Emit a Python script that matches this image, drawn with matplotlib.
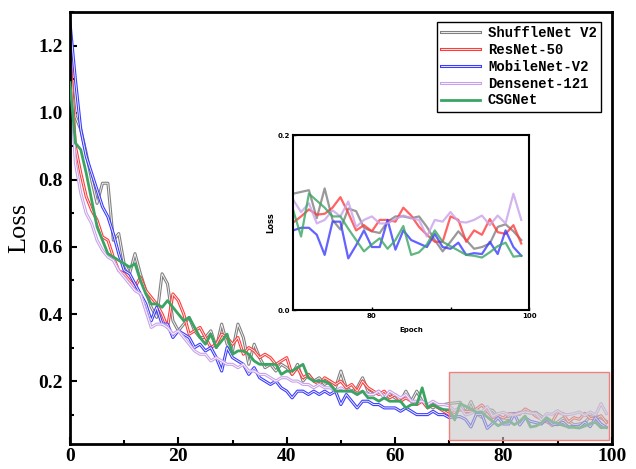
import numpy as np
import matplotlib.pyplot as plt
import matplotlib.patheffects as pe
from matplotlib.patches import Rectangle
from matplotlib.ticker import MultipleLocator

epochs = np.arange(100)

shufflenet = [1.15, 0.99, 0.95, 0.88, 0.80, 0.73, 0.79, 0.79, 0.62, 0.64,
              0.55, 0.52, 0.58, 0.52, 0.47, 0.42, 0.39, 0.52, 0.49, 0.38,
              0.35, 0.37, 0.39, 0.35, 0.33, 0.33, 0.35, 0.30, 0.37, 0.31,
              0.29, 0.37, 0.33, 0.25, 0.31, 0.27, 0.24, 0.25, 0.23, 0.25,
              0.24, 0.22, 0.25, 0.20, 0.22, 0.20, 0.21, 0.19, 0.20, 0.18,
              0.23, 0.18, 0.17, 0.18, 0.21, 0.17, 0.16, 0.17, 0.15, 0.16,
              0.15, 0.14, 0.17, 0.14, 0.17, 0.14, 0.13, 0.12, 0.13, 0.13,
              0.133, 0.135, 0.137, 0.105, 0.139, 0.103, 0.092, 0.116, 0.113, 0.094,
              0.090, 0.088, 0.101, 0.107, 0.107, 0.105, 0.107, 0.095, 0.080, 0.067,
              0.078, 0.090, 0.080, 0.070, 0.072, 0.076, 0.095, 0.098, 0.090, 0.080]

resnet = [1.19, 0.90, 0.82, 0.75, 0.71, 0.68, 0.63, 0.62, 0.57, 0.53,
          0.52, 0.50, 0.48, 0.51, 0.47, 0.45, 0.43, 0.40, 0.36, 0.46,
          0.44, 0.40, 0.34, 0.35, 0.36, 0.33, 0.30, 0.31, 0.34, 0.33,
          0.31, 0.33, 0.28, 0.30, 0.29, 0.27, 0.28, 0.27, 0.25, 0.26,
          0.27, 0.22, 0.24, 0.21, 0.22, 0.20, 0.19, 0.21, 0.20, 0.19,
          0.20, 0.18, 0.19, 0.17, 0.20, 0.18, 0.17, 0.16, 0.17, 0.15,
          0.16, 0.14, 0.15, 0.14, 0.13, 0.14, 0.12, 0.13, 0.12, 0.11,
          0.100, 0.107, 0.115, 0.109, 0.110, 0.117, 0.129, 0.111, 0.091, 0.097,
          0.090, 0.103, 0.103, 0.101, 0.117, 0.108, 0.095, 0.086, 0.078, 0.078,
          0.107, 0.103, 0.078, 0.091, 0.086, 0.104, 0.089, 0.087, 0.097, 0.076]

mobilenet = [1.27, 1.10, 0.95, 0.87, 0.82, 0.77, 0.72, 0.69, 0.64, 0.58,
             0.53, 0.52, 0.49, 0.46, 0.43, 0.38, 0.42, 0.37, 0.37, 0.33,
             0.35, 0.34, 0.33, 0.30, 0.31, 0.29, 0.30, 0.27, 0.23, 0.30,
             0.27, 0.26, 0.25, 0.22, 0.24, 0.21, 0.20, 0.19, 0.20, 0.18,
             0.17, 0.15, 0.17, 0.17, 0.16, 0.17, 0.16, 0.17, 0.16, 0.17,
             0.13, 0.16, 0.14, 0.12, 0.14, 0.14, 0.13, 0.13, 0.12, 0.12,
             0.12, 0.11, 0.12, 0.11, 0.10, 0.10, 0.10, 0.11, 0.10, 0.10,
             0.091, 0.094, 0.094, 0.086, 0.063, 0.101, 0.101, 0.059, 0.074, 0.091,
             0.072, 0.072, 0.103, 0.069, 0.091, 0.080, 0.076, 0.072, 0.087, 0.072,
             0.070, 0.077, 0.063, 0.065, 0.064, 0.078, 0.064, 0.091, 0.072, 0.062]

densenet = [1.12, 0.85, 0.76, 0.70, 0.67, 0.62, 0.59, 0.57, 0.56, 0.53,
            0.51, 0.49, 0.47, 0.46, 0.41, 0.36, 0.37, 0.37, 0.36, 0.34,
            0.35, 0.33, 0.31, 0.29, 0.28, 0.28, 0.26, 0.27, 0.26, 0.25,
            0.25, 0.24, 0.25, 0.23, 0.23, 0.22, 0.22, 0.21, 0.20, 0.21,
            0.21, 0.20, 0.20, 0.19, 0.19, 0.18, 0.19, 0.18, 0.18, 0.17,
            0.18, 0.17, 0.17, 0.16, 0.17, 0.16, 0.16, 0.17, 0.15, 0.17,
            0.16, 0.15, 0.16, 0.14, 0.14, 0.14, 0.13, 0.14, 0.13, 0.13,
            0.126, 0.112, 0.122, 0.099, 0.103, 0.114, 0.107, 0.124, 0.095, 0.103,
            0.107, 0.099, 0.099, 0.104, 0.108, 0.105, 0.103, 0.084, 0.103, 0.101,
            0.112, 0.101, 0.100, 0.103, 0.108, 0.097, 0.108, 0.099, 0.133, 0.103]

csgnet = [1.09, 0.91, 0.89, 0.82, 0.74, 0.66, 0.62, 0.58, 0.57, 0.56,
          0.55, 0.54, 0.55, 0.50, 0.46, 0.43, 0.43, 0.42, 0.44, 0.42,
          0.40, 0.38, 0.39, 0.36, 0.33, 0.31, 0.34, 0.30, 0.32, 0.34,
          0.28, 0.29, 0.29, 0.28, 0.26, 0.25, 0.25, 0.25, 0.25, 0.22,
          0.23, 0.23, 0.24, 0.25, 0.21, 0.20, 0.20, 0.20, 0.19, 0.17,
          0.17, 0.17, 0.17, 0.16, 0.17, 0.15, 0.15, 0.14, 0.15, 0.14,
          0.14, 0.14, 0.12, 0.13, 0.13, 0.18, 0.12, 0.13, 0.12, 0.115,
          0.114, 0.084, 0.133, 0.125, 0.117, 0.107, 0.107, 0.093, 0.080, 0.067,
          0.075, 0.082, 0.070, 0.080, 0.096, 0.063, 0.066, 0.075, 0.091, 0.078,
          0.073, 0.068, 0.063, 0.062, 0.060, 0.066, 0.073, 0.077, 0.061, 0.062]

names = ["ShuffleNet V2", "ResNet-50", "MobileNet-V2", "Densenet-121", "CSGNet"]
series = [shufflenet, resnet, mobilenet, densenet, csgnet]
colors = ['#808080', '#ff3c3c', '#3c3cff', '#c8a2ea', '#3aa563']

fig = plt.figure(figsize=(6.36, 4.69), dpi=100)
ax = fig.add_axes([0.110, 0.053, 0.852, 0.921])

for name, vals, c in zip(names, series, colors):
    if name == "CSGNet":
        ax.plot(epochs, vals, color=c, lw=2.0, label=name, zorder=3)
    else:
        ax.plot(epochs, vals, color='white', lw=0.6, label=name, zorder=2,
                path_effects=[pe.Stroke(linewidth=2.2, foreground=c), pe.Normal()])

# shaded zoom region
ax.add_patch(Rectangle((70, 0.024), 29.5, 0.203, facecolor=(0.78, 0.78, 0.78, 0.6),
                       edgecolor='#f08080', lw=1, zorder=4))

ax.set_xlim(0, 100)
ax.set_ylim(0.012, 1.30)
ax.xaxis.set_major_locator(MultipleLocator(20))
ax.xaxis.set_minor_locator(MultipleLocator(10))
ax.set_yticks([0.2, 0.4, 0.6, 0.8, 1.0, 1.2])
ax.yaxis.set_minor_locator(MultipleLocator(0.1))
ax.tick_params(which='both', direction='in', width=1.5)
ax.tick_params(which='major', length=5)
ax.tick_params(which='minor', length=3)
ax.tick_params(axis='x', labelsize=14, pad=3)
ax.tick_params(axis='y', labelsize=14, pad=5)
for lab in ax.get_xticklabels() + ax.get_yticklabels():
    lab.set_fontfamily('Liberation Serif')
    lab.set_fontweight('bold')
for s in ax.spines.values():
    s.set_linewidth(2)
ax.set_ylabel("Loss", fontsize=19, fontfamily='Liberation Serif', labelpad=6)

leg = ax.legend(loc='upper right', bbox_to_anchor=(0.980, 0.977), borderaxespad=0,
                prop={'family': 'Liberation Mono', 'weight': 'bold', 'size': 10},
                fancybox=False, edgecolor='black', framealpha=1,
                handlelength=2.8, labelspacing=0.2, borderpad=0.3, handletextpad=0.6)
leg.get_frame().set_linewidth(1)

# inset
axins = fig.add_axes([0.461, 0.339, 0.371, 0.373])
for name, vals, c in zip(names, series, colors):
    axins.plot(epochs[70:], vals[70:], color=c, lw=1.6, alpha=0.8)
axins.set_xlim(70, 100)
axins.set_ylim(0, 0.2)
axins.set_xticks([80, 100])
axins.set_xticks([90], minor=True)
axins.set_yticks([0.0, 0.2])
axins.set_yticklabels(["0.0", "0.2"])
axins.tick_params(which='both', direction='in', length=2, width=1, labelsize=5, pad=2)
for lab in axins.get_xticklabels() + axins.get_yticklabels():
    lab.set_fontweight('bold')
for s in axins.spines.values():
    s.set_linewidth(1.5)
axins.set_xlabel("Epoch", fontsize=5, fontweight='bold', labelpad=6)
axins.set_ylabel("Loss", fontsize=6, fontweight='bold', labelpad=2)

fig.savefig("out.png", dpi=100)
